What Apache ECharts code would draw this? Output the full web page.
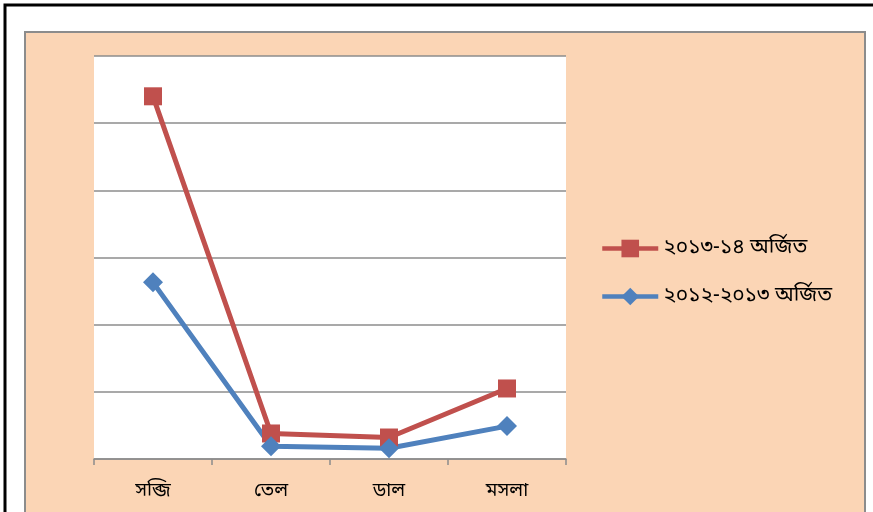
<!DOCTYPE html>
<html>
<head>
<meta charset="utf-8">
<script src="https://cdn.jsdelivr.net/npm/echarts@6/dist/echarts.min.js"></script>
<style>
  html, body { margin: 0; padding: 0; background: #fff; }
  #chart { width: 873px; height: 512px; }
</style>
</head>
<body>
<div id="chart"></div>
<script>
const categories = ["সব্জি", "তেল", "ডাল", "মসলা"];
const earned1314 = [5.4, 0.38, 0.32, 1.05];
const earned1213 = [2.63, 0.19, 0.16, 0.49];
const seriesNames = ["২০১৩-১৪ অর্জিত", "২০১২-২০১৩ অর্জিত"];

const font = "'Noto Sans Bengali', 'Noto Sans', sans-serif";

const chart = echarts.init(document.getElementById("chart"));
chart.setOption({
    animation: false,
    backgroundColor: "#fff",
    graphic: [
        {
            type: "rect",
            shape: { x: 5, y: 5, width: 900, height: 540 },
            style: { fill: "#fff", stroke: "#000", lineWidth: 3 },
            z: -20,
        },
        {
            type: "rect",
            shape: { x: 25, y: 32, width: 840, height: 500 },
            style: { fill: "#FBD5B5", stroke: "#8c8c8c", lineWidth: 2 },
            z: -10,
        },
        {
            type: "rect",
            shape: { x: 94, y: 56, width: 472, height: 403 },
            style: { fill: "#fff" },
            z: -5,
        },
    ],
    legend: {
        orient: "vertical",
        left: 595,
        top: 233,
        itemWidth: 56,
        itemHeight: 22,
        itemGap: 27,
        lineStyle: { width: 4.5 },
        textStyle: { fontSize: 21, color: "#000", fontFamily: font },
        data: seriesNames,
    },
    grid: { left: 94, right: 307, top: 56, bottom: 53 },
    xAxis: {
        type: "category",
        data: categories,
        boundaryGap: true,
        axisLine: { lineStyle: { color: "#8c8c8c", width: 1.5 } },
        axisTick: { show: true, length: 6, lineStyle: { color: "#8c8c8c", width: 1.5 } },
        axisLabel: { fontSize: 19, color: "#000", margin: 24, fontFamily: font },
    },
    yAxis: {
        type: "value",
        min: 0,
        max: 6,
        interval: 1,
        axisLabel: { show: false },
        axisLine: { show: false },
        axisTick: { show: false },
        splitLine: { lineStyle: { color: "#8c8c8c", width: 1.5 } },
    },
    series: [
        {
            name: seriesNames[0],
            type: "line",
            data: earned1314,
            symbol: "rect",
            symbolSize: 18,
            lineStyle: { color: "#C0504D", width: 5 },
            itemStyle: { color: "#C0504D" },
        },
        {
            name: seriesNames[1],
            type: "line",
            data: earned1213,
            symbol: "diamond",
            symbolSize: 20,
            lineStyle: { color: "#4F81BD", width: 5 },
            itemStyle: { color: "#4F81BD" },
        },
    ],
});
</script>
</body>
</html>
